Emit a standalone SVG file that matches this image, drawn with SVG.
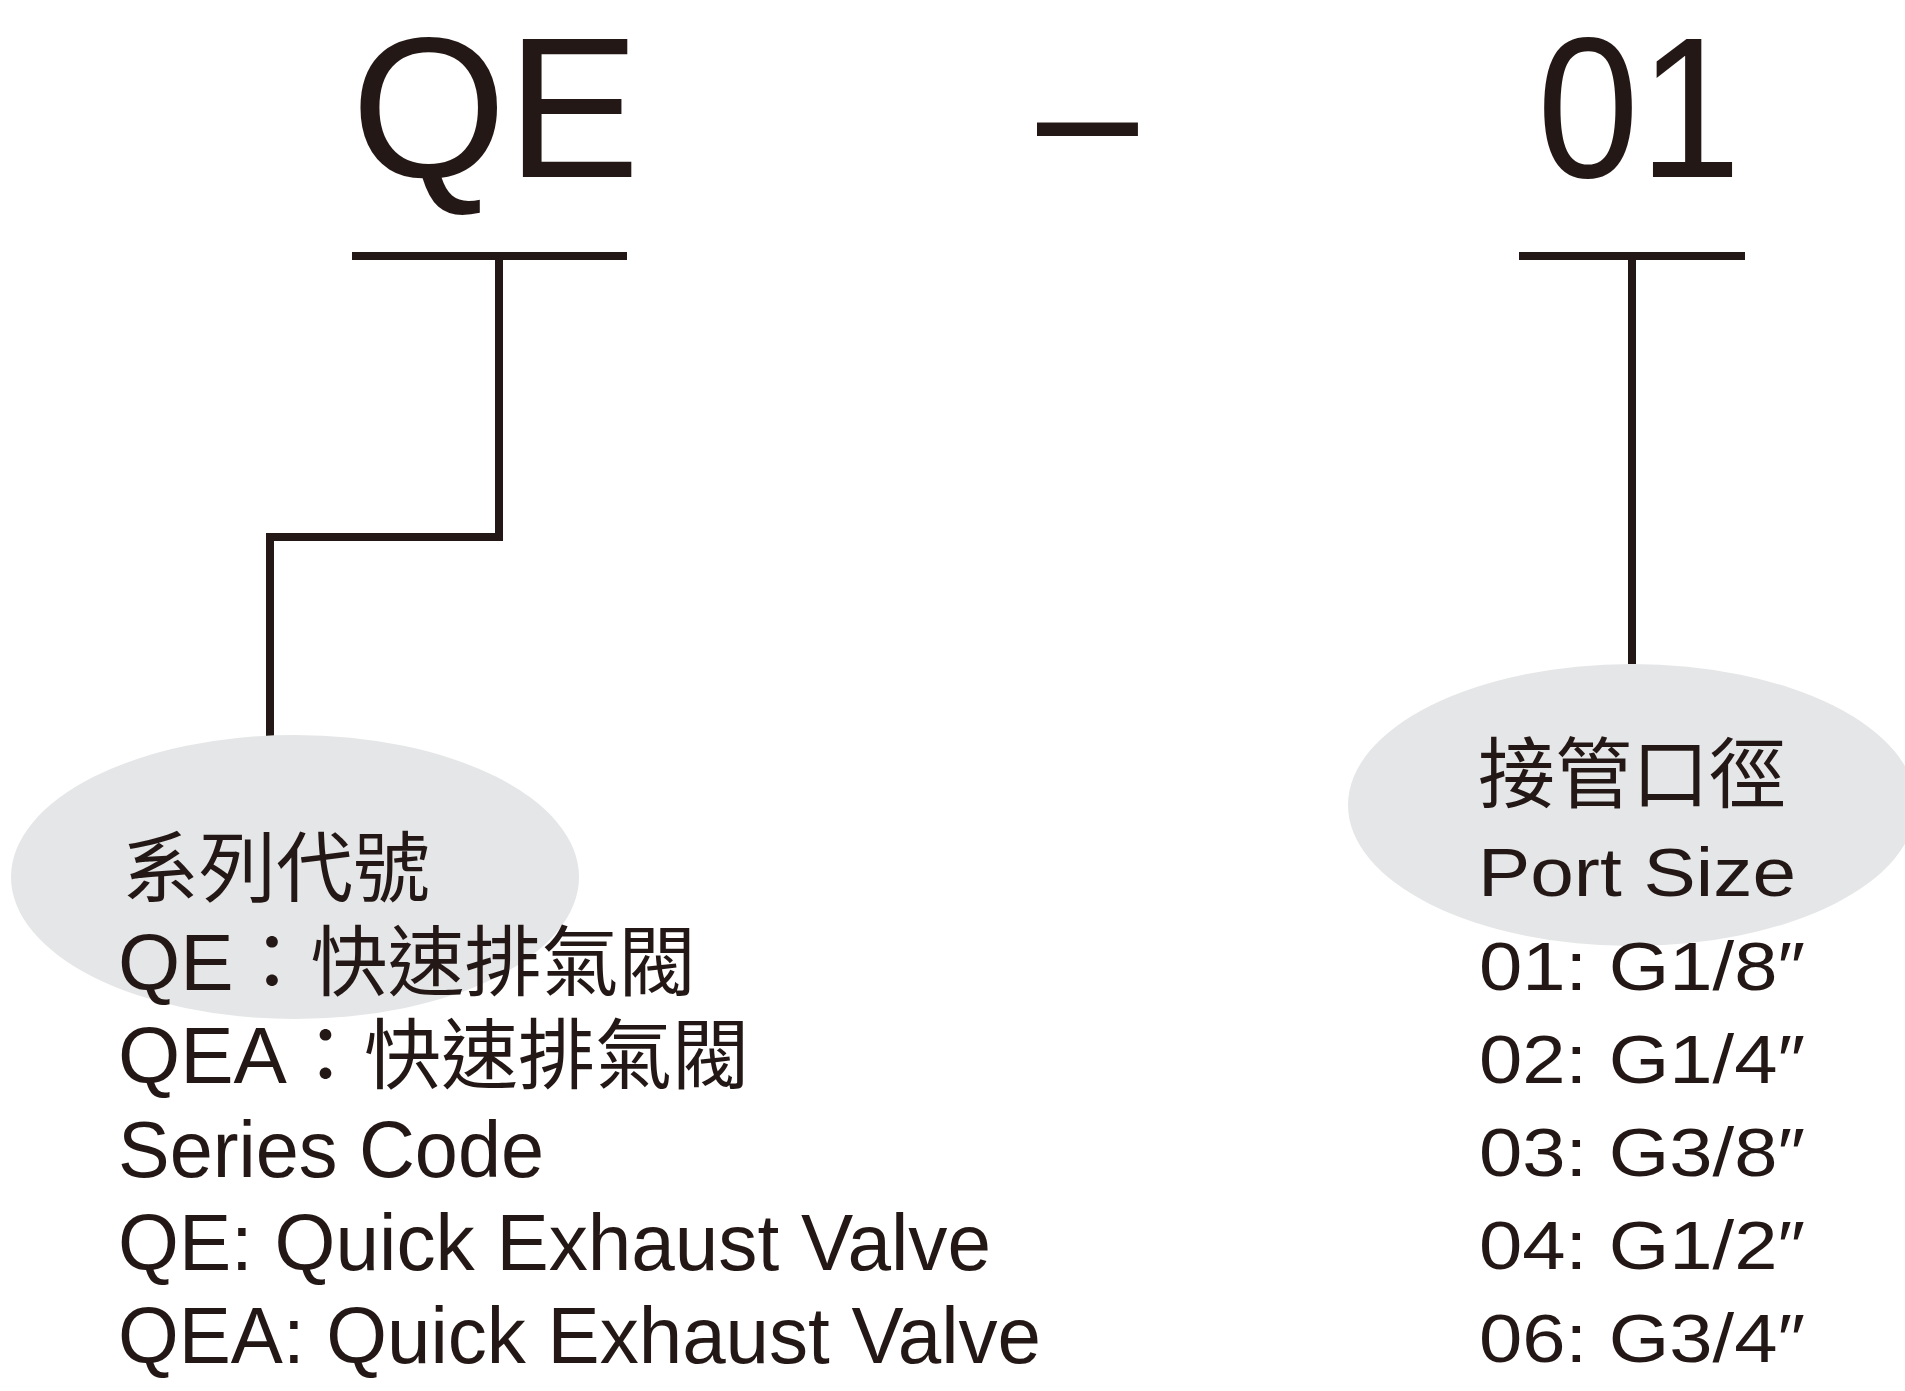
<svg xmlns="http://www.w3.org/2000/svg" width="1905" height="1391" viewBox="0 0 1905 1391">
<style>
.big{font-family:"Liberation Sans",Arial,sans-serif;font-size:200px;fill:#231815}
.lt{font-family:"Liberation Sans","Noto Sans CJK TC",sans-serif;font-size:80px;fill:#231815}
.rt{font-family:"Liberation Sans","Noto Sans CJK TC",sans-serif;font-size:68px;fill:#231815}
.cjk{font-family:"Noto Sans CJK TC","Noto Sans CJK SC",sans-serif;font-size:77px;fill:#231815}
.ln{fill:none;stroke:#231815;stroke-width:8;stroke-linejoin:miter;stroke-linecap:butt}
.bub{fill:#e5e6e7}
</style>
<rect width="1905" height="1391" fill="#ffffff"/>
<g id="code-series"><text class="big" x="351" y="177">QE</text></g>
<g id="code-dash"><text class="big" x="1037" y="180" textLength="101" lengthAdjust="spacingAndGlyphs">–</text></g>
<g id="code-port"><text class="big" x="1537" y="177" textLength="204" lengthAdjust="spacingAndGlyphs">01</text></g>
<g id="connectors">
<path class="ln" d="M352,256 H627"/>
<path class="ln" d="M499,256 V537 H270 V736"/>
<path class="ln" d="M1519,256 H1745"/>
<path class="ln" d="M1632,256 V664"/>
</g>
<g id="series-node">
<ellipse class="bub" cx="295" cy="877" rx="284" ry="142"/>
<text class="cjk" x="122" y="896">系列代號</text>
<text class="lt" x="118" y="990">QE<tspan class="cjk">：快速排氣閥</tspan></text>
<text class="lt" x="118" y="1083">QEA<tspan class="cjk">：快速排氣閥</tspan></text>
<text class="lt" x="118" y="1177" textLength="426" lengthAdjust="spacingAndGlyphs">Series Code</text>
<text class="lt" x="118" y="1270" textLength="873" lengthAdjust="spacingAndGlyphs">QE: Quick Exhaust Valve</text>
<text class="lt" x="118" y="1363" textLength="923" lengthAdjust="spacingAndGlyphs">QEA: Quick Exhaust Valve</text>
</g>
<g id="port-node">
<ellipse class="bub" cx="1632" cy="805" rx="284" ry="141"/>
<text class="cjk" x="1478" y="802">接管口徑</text>
<text class="rt" x="1478" y="896" textLength="318" lengthAdjust="spacingAndGlyphs">Port Size</text>
<text class="rt" x="1479" y="990" textLength="326" lengthAdjust="spacingAndGlyphs">01: G1/8″</text>
<text class="rt" x="1479" y="1083" textLength="326" lengthAdjust="spacingAndGlyphs">02: G1/4″</text>
<text class="rt" x="1479" y="1176" textLength="326" lengthAdjust="spacingAndGlyphs">03: G3/8″</text>
<text class="rt" x="1479" y="1269" textLength="326" lengthAdjust="spacingAndGlyphs">04: G1/2″</text>
<text class="rt" x="1479" y="1362" textLength="326" lengthAdjust="spacingAndGlyphs">06: G3/4″</text>
</g>
</svg>
